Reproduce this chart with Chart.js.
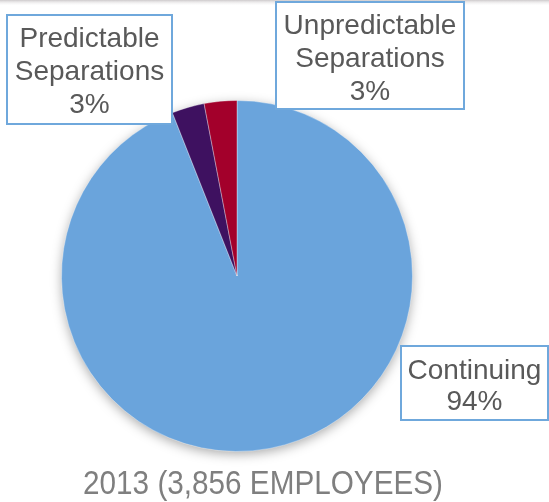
<!DOCTYPE html>
<html>
<head>
<meta charset="utf-8">
<script src="https://cdn.jsdelivr.net/npm/chart.js@4/dist/chart.umd.min.js"></script>
<style>
  html, body { margin: 0; padding: 0; background: #ffffff; }
  #wrap { width: 549px; height: 502px; position: relative; }
</style>
</head>
<body>
<div id="wrap"><canvas id="c" width="549" height="502"></canvas></div>
<script>
// Workforce composition, 2013
const categories = ['Continuing', 'Predictable Separations', 'Unpredictable Separations'];
const labelLines = [['Continuing'], ['Predictable', 'Separations'], ['Unpredictable', 'Separations']];
const shares = [94, 3, 3];
const sliceColors = ['#6AA4DC', '#3E1160', '#A3002B'];
const chartTitle = '2013 (3,856 EMPLOYEES)';

const FONT = '"Liberation Sans", Arial, sans-serif';

// Callout boxes, placed relative to the pie centre
const callouts = [
  { idx: 0, box: [164, 70, 147, 74], lineH: 31, first: 33 },
  { idx: 1, box: [-230, -261, 165, 109], lineH: 33, first: 32 },
  { idx: 2, box: [39, -274, 188, 107], lineH: 33, first: 32 }
];

const decor = {
  id: 'decor',
  beforeDraw(chart) {
    const ctx = chart.ctx;
    ctx.save();
    const g = ctx.createLinearGradient(0, 0, 0, 6);
    g.addColorStop(0, 'rgba(200,196,198,0.9)');
    g.addColorStop(1, 'rgba(255,255,255,0)');
    ctx.fillStyle = g;
    ctx.fillRect(0, 0, chart.width, 6);
    ctx.restore();
  },
  beforeDatasetsDraw(chart) {
    // soft shadow beneath the pie
    const arc = chart.getDatasetMeta(0).data[0];
    if (!arc) return;
    const ctx = chart.ctx;
    ctx.save();
    ctx.shadowColor = 'rgba(0,0,0,0.35)';
    ctx.shadowBlur = 12;
    ctx.shadowOffsetX = 0;
    ctx.shadowOffsetY = 3;
    ctx.fillStyle = sliceColors[0];
    ctx.beginPath();
    ctx.arc(arc.x, arc.y, arc.outerRadius - 0.5, 0, Math.PI * 2);
    ctx.fill();
    ctx.restore();
  },
  afterDraw(chart) {
    const ctx = chart.ctx;
    const arc = chart.getDatasetMeta(0).data[0];
    const cx = arc.x, cy = arc.y;
    ctx.save();
    ctx.textAlign = 'center';
    ctx.textBaseline = 'alphabetic';
    callouts.forEach(c => {
      const [dx, dy, w, h] = c.box;
      const x = cx + dx, y = cy + dy;
      ctx.fillStyle = '#ffffff';
      ctx.fillRect(x, y, w, h);
      ctx.strokeStyle = '#6FA8DC';
      ctx.lineWidth = 2;
      ctx.strokeRect(x, y, w, h);
      ctx.fillStyle = '#595959';
      ctx.font = '28px ' + FONT;
      const lines = labelLines[c.idx].concat([shares[c.idx] + '%']);
      lines.forEach((t, i) => {
        ctx.fillText(t, x + w / 2, y + c.first + i * c.lineH);
      });
    });
    // caption below the pie, slightly condensed
    ctx.fillStyle = '#7F7F7F';
    ctx.font = '33px ' + FONT;
    ctx.translate(cx + 26, cy + 218);
    ctx.scale(0.9, 1);
    ctx.fillText(chartTitle, 0, 0);
    ctx.restore();
  }
};

new Chart(document.getElementById('c'), {
  type: 'pie',
  data: {
    labels: categories,
    datasets: [{
      data: shares,
      backgroundColor: sliceColors,
      borderColor: 'rgba(255,255,255,0.35)',
      borderWidth: 1
    }]
  },
  options: {
    responsive: false,
    animation: false,
    layout: { padding: { left: 61, right: 136, top: 100, bottom: 50 } },
    plugins: {
      legend: { display: false },
      tooltip: { enabled: false },
      title: { display: false }
    }
  },
  plugins: [decor]
});
</script>
</body>
</html>
